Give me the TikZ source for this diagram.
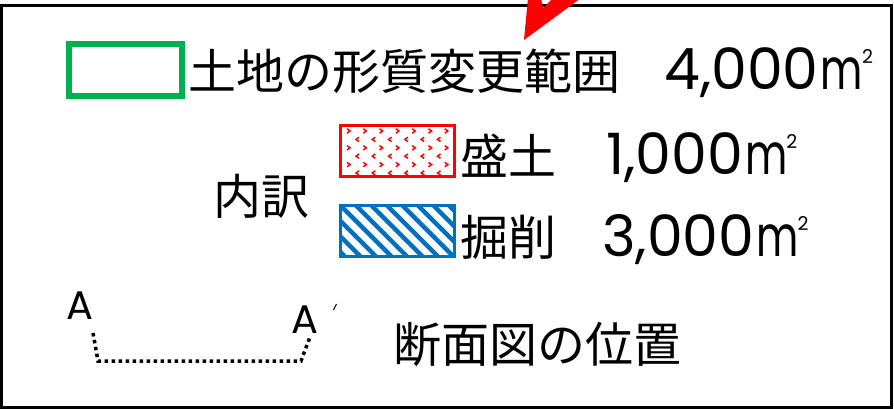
\documentclass[tikz,border=0pt]{standalone}
\usepackage{fontspec}
\usepackage{graphicx}
\newfontfamily\jp{Noto Sans CJK JP}
\newfontfamily\lat{Poppins}
\definecolor{lgreen}{RGB}{0,176,80}
\definecolor{hblue}{RGB}{0,112,192}
\newcommand\sqm{\kern2pt\scalebox{0.72}[1]{m}\kern-1pt\raisebox{26pt}{\fontsize{19}{19}\selectfont 2}}
\tikzset{
  jtext/.style={inner sep=0pt, anchor=base west, font=\jp\fontsize{48}{52}\selectfont},
  ntext/.style={inner sep=0pt, anchor=base west, font=\lat\fontsize{57}{60}\selectfont},
  atext/.style={inner sep=0pt, anchor=base west, font=\lat\fontsize{40}{44}\selectfont},
}
\begin{document}
\begin{tikzpicture}[x=1pt,y=-1pt]
\useasboundingbox (0,0) rectangle (894,409);
\fill[white] (0,0) rectangle (894,409);
% outer frame
\draw[line width=3pt] (1.5,5.5) rectangle (891.5,407.5);
% red arrow head
\fill[red] (524,40) -- (528,-2) -- (541,-2) -- (543,8) -- (553,-2) -- (581,-2) -- cycle;
% green legend
\node[draw=lgreen, line width=6pt, minimum width=113pt, minimum height=52pt, inner sep=0pt] (green) at (125.5,70) {};
\node[jtext] (t1) at (188,90) {土地の形質変更範囲};
\node[ntext] (n1) at (664,90) {4,000\sqm};
% red dotted box
\begin{scope}
\clip (340,125) rectangle (455,177);
\foreach \i in {0,...,5}{
  \foreach \j in {0,...,7}{
    \pgfmathsetmacro\yy{131+8.4*\i}
    \ifodd\i
      \pgfmathsetmacro\xx{357+16.3*\j}
      \draw[red, line width=1.5pt] (\xx+2,\yy-2.2) -- (\xx-1,\yy) -- (\xx+2,\yy+2.2);
    \else
      \pgfmathsetmacro\xx{349+16.3*\j}
      \draw[red, line width=1.5pt] (\xx-2,\yy-2.2) -- (\xx+1,\yy) -- (\xx-2,\yy+2.2);
    \fi
  }
}
\end{scope}
\node[draw=red, line width=3pt, minimum width=114pt, minimum height=51pt, inner sep=0pt] (fill) at (397.5,151) {};
\node[jtext] (t2) at (460,174) {盛土};
\node[ntext] (n2) at (606,175) {1,000\sqm};
% inner label
\node[jtext] (t3) at (213,214) {内訳};
% blue hatch box
\begin{scope}
\clip (340,205) rectangle (455,257);
\foreach \k in {-4,...,8}{
  \draw[hblue, line width=4.5pt] (330+15.5*\k,195) -- (402+15.5*\k,267);
}
\end{scope}
\node[draw=hblue, line width=3pt, minimum width=114pt, minimum height=51pt, inner sep=0pt] (cut) at (397.5,231) {};
\node[jtext] (t4) at (460,255) {掘削};
\node[ntext] (n3) at (602,256) {3,000\sqm};
% section line
\node[atext] (a1) at (66,319) {A};
\node[atext] (a2) at (291,333) {A};
\node[inner sep=0pt] (pr) at (335,307) {};
\draw[line width=1pt] (333.5,310) -- (336.5,304);
\coordinate (p1) at (93,333);
\coordinate (p2) at (98,361);
\coordinate (p3) at (301,361);
\coordinate (p4) at (310,337);
\draw[line width=3.5pt, dash pattern=on 3.5pt off 3.5pt] (p1) -- (p2) -- (p3) -- (p4);
\node[jtext] (t5) at (393,362) {断面図の位置};
\end{tikzpicture}
\end{document}
